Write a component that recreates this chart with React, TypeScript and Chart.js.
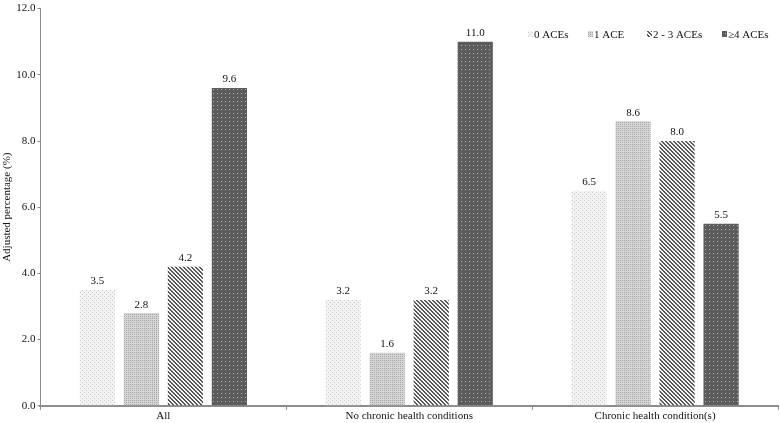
import React, { useEffect, useRef } from "react";
import { Chart, registerables } from "chart.js";

Chart.register(...registerables);

const categories = ["All", "No chronic health conditions", "Chronic health condition(s)"];
const seriesLabels = ["0 ACEs", "1 ACE", "2 - 3 ACEs", "\u22654 ACEs"];
const aces0 = [3.5, 3.2, 6.5];
const aces1 = [2.8, 1.6, 8.6];
const aces23 = [4.2, 3.2, 8.0];
const aces4 = [9.6, 11.0, 5.5];
const yTicks = [0, 2, 4, 6, 8, 10, 12];

const FONT = "'Liberation Serif', 'Times New Roman', serif";

function makePattern(kind: number): CanvasPattern | string {
  const c = document.createElement("canvas");
  const s = 4;
  c.width = s;
  c.height = s;
  const g = c.getContext("2d")!;
  if (kind === 0) {
    g.fillStyle = "#f2f2f2";
    g.fillRect(0, 0, s, s);
    g.fillStyle = "#c8c8c8";
    g.fillRect(0, 0, 1, 1);
    g.fillRect(2, 2, 1, 1);
  } else if (kind === 1) {
    g.fillStyle = "#d6d6d6";
    g.fillRect(0, 0, s, s);
    g.fillStyle = "#a4a4a4";
    g.fillRect(0, 0, 1, 1);
    g.fillRect(2, 2, 1, 1);
    g.fillRect(2, 0, 1, 1);
    g.fillRect(0, 2, 1, 1);
  } else if (kind === 2) {
    g.fillStyle = "#f4f4f4";
    g.fillRect(0, 0, s, s);
    g.fillStyle = "#5a5a5a";
    for (let i = 0; i < s; i++) {
      g.fillRect(i, i, 1, 1);
      g.fillRect((i + 1) % s, i, 1, 1);
    }
  } else {
    g.fillStyle = "#5c5c5c";
    g.fillRect(0, 0, s, s);
    g.fillStyle = "#b0b0b0";
    g.fillRect(1, 1, 1, 1);
  }
  const ctx = document.createElement("canvas").getContext("2d")!;
  return ctx.createPattern(c, "repeat") || "#888";
}

const valueLabels = {
  id: "valueLabels",
  afterDatasetsDraw(chart: any) {
    const ctx = chart.ctx;
    ctx.save();
    ctx.font = `11px ${FONT}`;
    ctx.fillStyle = "#111";
    ctx.textAlign = "center";
    ctx.textBaseline = "bottom";
    chart.data.datasets.forEach((ds: any, i: number) => {
      const meta = chart.getDatasetMeta(i);
      meta.data.forEach((bar: any, j: number) => {
        ctx.fillText(Number(ds.data[j]).toFixed(1), bar.x, bar.y - 3);
      });
    });
    ctx.restore();
  },
};

const customLegend = {
  id: "customLegend",
  afterDraw(chart: any) {
    const ctx = chart.ctx;
    const xs = [528, 588, 647, 722];
    const y = 34;
    ctx.save();
    ctx.font = `11px ${FONT}`;
    ctx.textAlign = "left";
    ctx.textBaseline = "middle";
    chart.data.datasets.forEach((ds: any, i: number) => {
      ctx.fillStyle = ds.backgroundColor;
      ctx.fillRect(xs[i], y - 3, 5, 6);
      ctx.fillStyle = "#111";
      ctx.fillText(ds.label, xs[i] + 6, y + 1);
    });
    ctx.restore();
  },
};

export default function App() {
  const ref = useRef<HTMLCanvasElement>(null);
  useEffect(() => {
    const series = [aces0, aces1, aces23, aces4];
    const chart = new Chart(ref.current!, {
      type: "bar",
      data: {
        labels: categories,
        datasets: series.map((d, i) => ({
          label: seriesLabels[i],
          data: d,
          backgroundColor: makePattern(i) as any,
          borderWidth: 0,
          categoryPercentage: 0.716,
          barPercentage: 0.8,
        })),
      },
      options: {
        animation: false,
        responsive: false,
        maintainAspectRatio: false,
        layout: { padding: { top: 0, right: 2, left: 1, bottom: 0 } },
        plugins: {
          legend: { display: false },
          tooltip: { enabled: false },
        },
        scales: {
          x: {
            grid: {
              offset: true,
              drawOnChartArea: false,
              drawTicks: true,
              tickLength: 4,
              color: "#888",
            },
            border: { color: "#8c8c8c", width: 2 },
            ticks: { font: { family: FONT, size: 11 }, color: "#111", padding: 0 },
          },
          y: {
            min: 0,
            max: 12,
            afterBuildTicks: (axis: any) => {
              axis.ticks = yTicks.map((v) => ({ value: v }));
            },
            grid: {
              drawOnChartArea: false,
              drawTicks: true,
              tickLength: 3,
              color: "#888",
            },
            border: { color: "#8c8c8c", width: 1 },
            ticks: {
              font: { family: FONT, size: 11 },
              color: "#111",
              padding: 2,
              callback: (v: any) => Number(v).toFixed(1),
            },
            title: {
              display: true,
              text: "Adjusted percentage (%)",
              font: { family: FONT, size: 11 },
              color: "#111",
              padding: { top: 0, bottom: 0 },
            },
          },
        },
      },
      plugins: [valueLabels, customLegend],
    });
    return () => chart.destroy();
  }, []);
  return (
    <div style={{ position: "absolute", left: 0, top: 0, width: 780, height: 423, background: "#fff" }}>
      <canvas ref={ref} width={780} height={423} />
    </div>
  );
}
